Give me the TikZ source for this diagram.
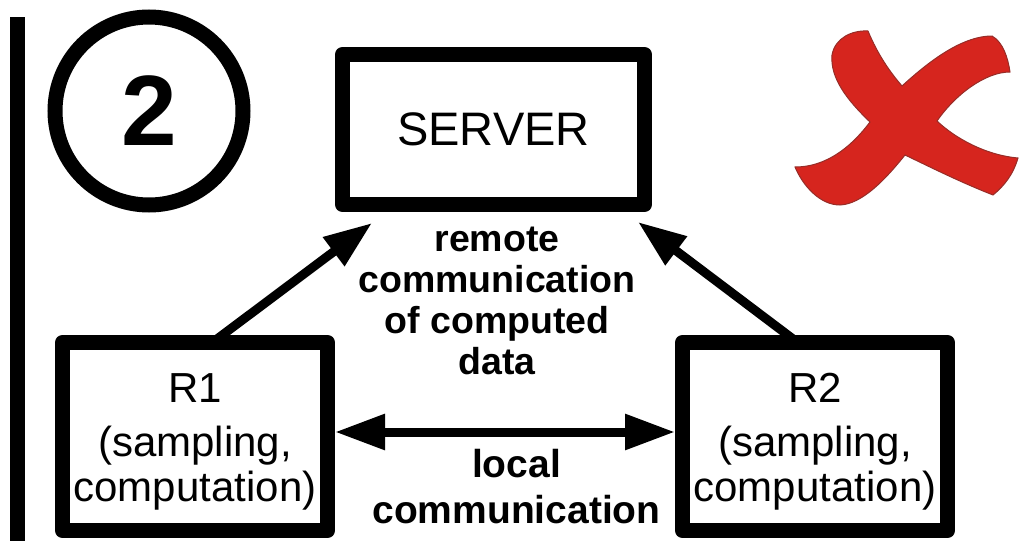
\documentclass[tikz,border=0pt]{standalone}
\usepackage{fontspec}
\setmainfont{Liberation Sans}
\usetikzlibrary{arrows.meta}
\definecolor{crossred}{RGB}{214,37,30}
\definecolor{crossedge}{RGB}{150,45,40}

\begin{document}
\begin{tikzpicture}[x=1pt, y=-1pt,
  box/.style={draw, line width=15pt, line join=round, outer sep=7.5pt, inner sep=0pt},
  robot/.style={box, minimum width=265pt, minimum height=188pt},
  boxtxt/.style={align=center, inner sep=0pt, font=\fontsize{42}{45}\selectfont},
  commtxt/.style={align=center, inner sep=0pt, font=\fontsize{37.5}{41}\selectfont\bfseries},
  arr/.style={line width=9pt, -{Triangle[length=48pt, width=34pt]}},
  dblarr/.style={line width=9pt, {Triangle[length=50pt, width=34pt]}-{Triangle[length=50pt, width=34pt]}}]
  \useasboundingbox (0,0) rectangle (1029,541);
  \draw[line width=15pt] (17.5,17) -- (17.5,541);
  \node[circle, draw, line width=15pt, minimum size=188pt, inner sep=0pt, font=\fontsize{100}{100}\selectfont\bfseries] (badge) at (149,111) {2};
  \node[box, minimum width=302pt, minimum height=150pt, font=\fontsize{47}{47}\selectfont] (server) at (493.5,129.5) {SERVER};
  \node[robot] (rOne) at (195,436.5) {};
  \node[robot] (rTwo) at (815,436.5) {};
  \node[boxtxt, anchor=north] (rOneTxt) at ([yshift=-38pt]rOne.north) {R1\\[9pt](sampling,\\computation)};
  \node[boxtxt, anchor=north] (rTwoTxt) at ([yshift=-38pt]rTwo.north) {R2\\[9pt](sampling,\\computation)};
  \node[commtxt, anchor=north] (remoteTxt) at (497,227) {remote\\communication\\of computed\\data};
  \node[commtxt, font=\fontsize{39}{46}\selectfont\bfseries, anchor=north] (localTxt) at (516.5,449) {local\\communication};
  \draw[arr] ([xshift=18pt, yshift=-7pt]rOne.north) -- ([xshift=37pt, yshift=-11pt]server.south west);
  \draw[arr] ([xshift=-18pt, yshift=-7pt]rTwo.north) -- ([xshift=-14pt, yshift=-10pt]server.south east);
  \draw[dblarr] ([yshift=4.5pt]rOne.east) -- ([yshift=4.5pt]rTwo.west);
  % red cross
  \filldraw[fill=crossred, draw=crossedge, line width=1pt]
    (868,31) .. controls (878,55) and (890,72) .. (902,86)
    .. controls (925,65) and (960,36) .. (992,36)
    .. controls (1003,42) and (1008,58) .. (1010,72)
    .. controls (985,72) and (955,95) .. (937,121)
    .. controls (955,138) and (985,155) .. (1018,158)
    .. controls (1013,175) and (1004,186) .. (993,195)
    .. controls (960,182) and (930,167) .. (905,155)
    .. controls (885,180) and (862,204) .. (840,205)
    .. controls (820,205) and (803,186) .. (795,167)
    .. controls (830,167) and (855,142) .. (870,122)
    .. controls (847,100) and (830,78) .. (832,55)
    .. controls (835,38) and (852,30) .. cycle;
\end{tikzpicture}
\end{document}
